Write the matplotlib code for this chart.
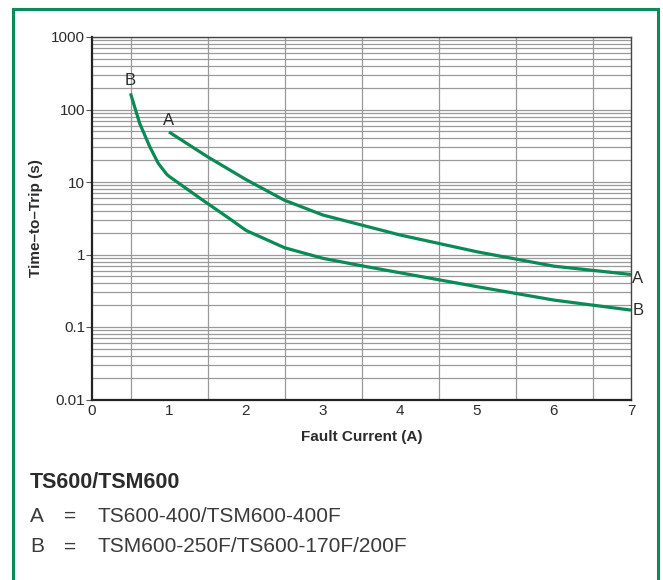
import numpy as np
import matplotlib.pyplot as plt
from matplotlib.patches import Rectangle

plt.rcParams["font.family"] = ["Liberation Sans", "DejaVu Sans"]

# curve A: TS600-400/TSM600-400F
a_current = [1.0, 1.5, 2.0, 2.5, 3.0, 3.5, 4.0, 5.0, 6.0, 7.0]
a_time = [49, 22.3, 10.8, 5.6, 3.5, 2.55, 1.86, 1.09, 0.69, 0.53]

# curve B: TSM600-250F/TS600-170F/200F
b_current = [0.5, 0.62, 0.75, 0.86, 0.97, 1.0, 1.4, 1.8, 2.0, 2.5, 3.0, 3.5, 4.0, 5.0, 6.0, 7.0]
b_time = [167, 64, 30.7, 18.1, 12.8, 12.0, 6.0, 3.05, 2.15, 1.24, 0.885, 0.70, 0.56, 0.36, 0.235, 0.171]

x_ticks = [0, 1, 2, 3, 4, 5, 6, 7]
y_ticks = [0.01, 0.1, 1, 10, 100, 1000]
y_tick_labels = ["0.01", "0.1", "1", "10", "100", "1000"]

GREEN = "#0b8a55"
TXT = "#2b2b2b"
LIGHT = "#3a3a3a"

fig = plt.figure(figsize=(6.63, 5.8), dpi=100)
ax = fig.add_axes([92 / 663, 1 - 399.5 / 580, (631 - 92) / 663, (399.5 - 37) / 580])

ax.set_yscale("log")
ax.set_xlim(0, 7)
ax.set_ylim(0.01, 1000)

ax.set_xticks(np.arange(0, 7.01, 0.5), minor=True)
ax.grid(True, which="minor", axis="x", color="#9a9a9a", lw=0.9)
ax.grid(True, which="both", axis="y", color="#9a9a9a", lw=0.9)
ax.set_axisbelow(True)

ax.plot(a_current, a_time, color=GREEN, lw=2.3, solid_capstyle="butt")
ax.plot(b_current, b_time, color=GREEN, lw=2.3, solid_capstyle="butt")

ax.annotate("B", (b_current[0], b_time[0]), xytext=(0, 9), textcoords="offset points",
            ha="center", va="center", fontsize=12, color=TXT)
ax.annotate("A", (a_current[0], a_time[0]), xytext=(0, 8), textcoords="offset points",
            ha="center", va="center", fontsize=12, color=TXT)
ax.annotate("A", (a_current[-1], a_time[-1]), xytext=(1, -3), textcoords="offset points",
            ha="left", va="center", fontsize=12, color=TXT, annotation_clip=False)
ax.annotate("B", (b_current[-1], b_time[-1]), xytext=(1, 0), textcoords="offset points",
            ha="left", va="center", fontsize=12, color=TXT, annotation_clip=False)

ax.set_xticks(x_ticks)
ax.set_yticks(y_ticks)
ax.set_yticklabels(y_tick_labels)
ax.yaxis.set_minor_formatter(plt.NullFormatter())
ax.tick_params(axis="y", which="major", length=4, width=0.8, color="#555555",
               labelsize=11, labelcolor=TXT, pad=1)
ax.tick_params(axis="y", which="minor", length=0)
ax.tick_params(axis="x", which="both", length=0, labelsize=11, labelcolor=TXT, pad=3)

for side in ["left", "bottom"]:
    ax.spines[side].set_linewidth(1.6)
    ax.spines[side].set_color("#222222")
for side in ["top", "right"]:
    ax.spines[side].set_linewidth(1.0)
    ax.spines[side].set_color("#444444")

ax.set_xlabel("Fault Current (A)", fontsize=11, fontweight="bold", color=TXT, labelpad=9)
ax.set_ylabel("Time\u2013to\u2013Trip (s)", fontsize=11, fontweight="bold", color=TXT, labelpad=6)

# legend text block below the chart
fig.text(30 / 663, 1 - 483 / 580, "TS600/TSM600", fontsize=15.5, fontweight="bold",
         color=TXT, va="center")
fig.text(30 / 663, 1 - 516 / 580, "A", fontsize=15, color=LIGHT, va="center")
fig.text(64 / 663, 1 - 516 / 580, "=", fontsize=15, color=LIGHT, va="center")
fig.text(98 / 663, 1 - 516 / 580, "TS600-400/TSM600-400F", fontsize=15, color=LIGHT, va="center")
fig.text(30 / 663, 1 - 547 / 580, "B", fontsize=15, color=LIGHT, va="center")
fig.text(64 / 663, 1 - 547 / 580, "=", fontsize=15, color=LIGHT, va="center")
fig.text(98 / 663, 1 - 547 / 580, "TSM600-250F/TS600-170F/200F", fontsize=15, color=LIGHT, va="center")

# green frame, open at the bottom
frame = Rectangle((13 / 663, -0.05), (658 - 13) / 663, 1.05 - 8.5 / 580,
                  transform=fig.transFigure, fill=False, edgecolor="#0a8c58", lw=2.2,
                  clip_on=False)
fig.add_artist(frame)

plt.savefig("out.png", dpi=100)
